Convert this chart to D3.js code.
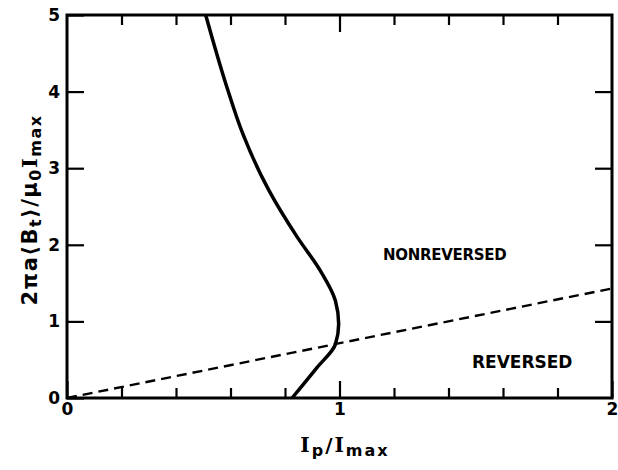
<!DOCTYPE html>
<html>
<head>
<meta charset="utf-8">
<script src="https://cdn.jsdelivr.net/npm/d3@7"></script>
<style>
  body { margin: 0; background: #fff; }
  text { font-family: "DejaVu Sans", Arial, sans-serif; font-weight: bold; fill: #000; }
  .serif { font-family: "DejaVu Serif", serif; }
</style>
</head>
<body>
<svg id="chart" width="618" height="470"></svg>
<script>
// curve (x = Ip/Imax, y = 2πa<Bt>/μ0Imax), sorted by y
const curveX = [0.826, 0.918, 0.985, 0.997, 0.985, 0.930, 0.845, 0.741, 0.645, 0.583, 0.509];
const curveY = [0.00, 0.40, 0.70, 0.965, 1.27, 1.66, 2.10, 2.71, 3.45, 4.10, 5.00];

// boundary between reversed / nonreversed
const boundX = [0, 2];
const boundY = [0, 1.43];

const xMajor = [0, 1, 2];
const xMinor = [0.2, 0.4, 0.6, 0.8, 1.2, 1.4, 1.6, 1.8];
const yMajor = [0, 1, 2, 3, 4, 5];

const svg = d3.select("#chart");
const m = {left: 67, right: 6, top: 15, bottom: 72};
const W = 618 - m.left - m.right;
const H = 470 - m.top - m.bottom;

const x = d3.scaleLinear().domain([0, 2]).range([0, W]);
const y = d3.scaleLinear().domain([0, 5]).range([H, 0]);

const g = svg.append("g").attr("transform", `translate(${m.left},${m.top})`);

// ticks - all pointing inward
function styleAxis(sel) {
  sel.select(".domain").remove();
  sel.selectAll("line").attr("stroke", "#000").attr("stroke-width", 2.2);
  sel.selectAll("text").style("font-size", "17px");
}

g.append("g").attr("transform", `translate(0,${H})`)
  .call(d3.axisBottom(x).tickValues(xMinor).tickSize(-10).tickFormat(""))
  .call(styleAxis);
g.append("g").attr("transform", `translate(0,${H})`)
  .call(d3.axisBottom(x).tickValues(xMajor).tickSize(-17).tickPadding(5).tickFormat(d3.format("d")))
  .call(styleAxis);
g.append("g")
  .call(d3.axisTop(x).tickValues(xMinor).tickSize(-10).tickFormat(""))
  .call(styleAxis);
g.append("g")
  .call(d3.axisTop(x).tickValues([1]).tickSize(-17).tickFormat(""))
  .call(styleAxis);
g.append("g")
  .call(d3.axisLeft(y).tickValues(yMajor).tickSize(-17).tickPadding(7).tickFormat(d3.format("d")))
  .call(styleAxis);
g.append("g").attr("transform", `translate(${W},0)`)
  .call(d3.axisRight(y).tickValues([1, 2, 3, 4]).tickSize(-17).tickFormat(""))
  .call(styleAxis);

// frame
g.append("rect").attr("width", W).attr("height", H)
  .attr("fill", "none").attr("stroke", "#000").attr("stroke-width", 3);

const line = d3.line().x(d => x(d[0])).y(d => y(d[1]));

g.append("path")
  .datum(boundX.map((v, i) => [v, boundY[i]]))
  .attr("d", line)
  .attr("fill", "none").attr("stroke", "#000").attr("stroke-width", 2.4)
  .attr("stroke-dasharray", "10,6");

g.append("path")
  .datum(curveX.map((v, i) => [v, curveY[i]]))
  .attr("d", line.curve(d3.curveMonotoneY))
  .attr("fill", "none").attr("stroke", "#000").attr("stroke-width", 3.5);

// region labels
g.append("text").attr("x", x(1.16)).attr("y", y(1.8)).style("font-size", "15px").style("letter-spacing", "-0.3px").text("NONREVERSED");
g.append("text").attr("x", x(1.486)).attr("y", y(0.39)).style("font-size", "17px").text("REVERSED");

// x label
const xl = svg.append("text").attr("x", 345).attr("y", 452).attr("text-anchor", "middle")
  .style("font-size", "20px").style("letter-spacing", "2px");
xl.append("tspan").attr("class", "serif").text("I");
xl.append("tspan").attr("dy", 4).style("font-size", "16px").text("p");
xl.append("tspan").attr("dy", -4).text("/");
xl.append("tspan").attr("class", "serif").text("I");
xl.append("tspan").attr("dy", 4).style("font-size", "16px").text("max");

// y label
const yl = svg.append("text").attr("transform", "translate(37,210) rotate(-90)")
  .attr("text-anchor", "middle").style("font-size", "21px").style("letter-spacing", "1.5px");
yl.append("tspan").text("2πa⟨B");
yl.append("tspan").attr("dy", 4).style("font-size", "16px").text("t");
yl.append("tspan").attr("dy", -4).text("⟩/μ");
yl.append("tspan").attr("dy", 4).style("font-size", "16px").text("0");
yl.append("tspan").attr("dy", -4).attr("class", "serif").text("I");
yl.append("tspan").attr("dy", 4).style("font-size", "16px").text("max");
</script>
</body>
</html>
